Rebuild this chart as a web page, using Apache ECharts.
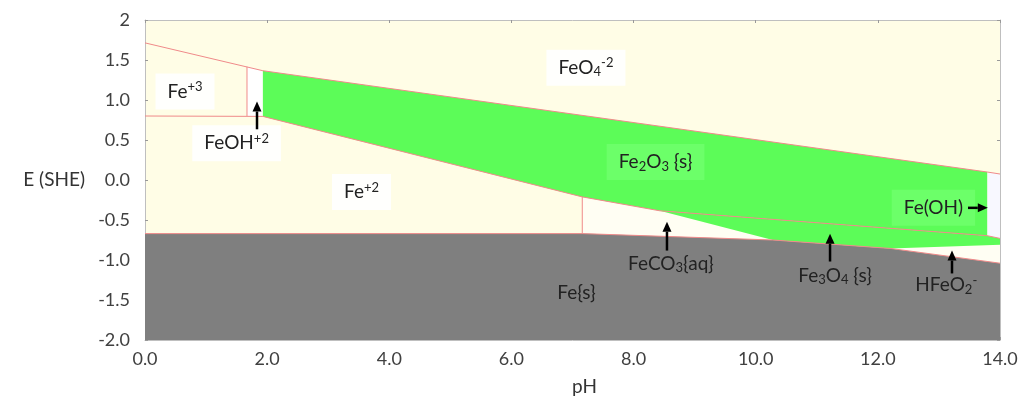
<!DOCTYPE html>
<html>
<head>
<meta charset="utf-8">
<script src="https://cdn.jsdelivr.net/npm/echarts@6/dist/echarts.min.js"></script>
<style>
  html, body { margin: 0; padding: 0; background: #ffffff; }
  #chart { width: 1025px; height: 401px; }
</style>
</head>
<body>
<div id="chart"></div>
<script>
// Pourbaix (E–pH) diagram for iron in water with dissolved carbonate.
// Every vertex is [pH, E in V vs SHE].

// Stability fields
const feOH2Field  = [[1.67, 0.80], [1.67, 1.416], [1.93, 1.366], [1.93, 0.795]];
const feCO3Field  = [[7.16, -0.67], [7.16, -0.211], [8.43, -0.385], [10.28, -0.75]];
const hFeO2Field  = [[12.2, -0.855], [14, -0.81], [14, -1.04]];
const feOHField   = [[13.79, 0.10], [14, 0.075], [14, -0.73], [13.79, -0.696]];
const fe2O3Field  = [[1.93, 1.366], [13.79, 0.10], [13.79, -0.696], [8.43, -0.385], [7.16, -0.211], [1.93, 0.795]];
const fe3O4Field  = [[8.43, -0.385], [13.79, -0.696], [14, -0.73], [14, -0.81], [12.2, -0.855], [10.28, -0.75]];
const feSolidField = [[0, -2], [0, -0.67], [7.16, -0.67], [10.28, -0.75], [12.2, -0.855], [14, -1.04], [14, -2]];

// Phase boundaries
const ferrateLine   = [[0, 1.714], [1.93, 1.366], [13.79, 0.10], [14, 0.075]];
const ferricLine    = [[0, 0.80], [1.93, 0.795]];
const hydrolysisLine = [[1.67, 0.80], [1.67, 1.416]];
const ferrousLine   = [[1.93, 0.795], [7.16, -0.211], [8.43, -0.385]];
const carbonateLine = [[7.16, -0.67], [7.16, -0.211]];
const magnetiteLine = [[8.43, -0.385], [13.79, -0.696], [14, -0.73]];
const ironLine      = [[0, -0.67], [7.16, -0.67], [10.28, -0.75], [12.2, -0.855], [14, -1.04]];

// Species labels (rich text) and their centres
const labelNames = [
  'Fe{sup|+3}',
  'FeOH{sup|+2}',
  'FeO{sub|4}{sup|-2}',
  'Fe{sup|+2}',
  'Fe{sub|2}O{sub|3} {s}',
  'Fe(OH)',
  'FeCO{sub|3}{aq}',
  'Fe{s}',
  'Fe{sub|3}O{sub|4} {s}',
  'HFeO{sub|2}{sup|-}'
];
const labelAt = [
  [0.655, 1.106], [1.50, 0.46], [7.22, 1.404], [3.545, -0.149], [8.36, 0.224],
  [12.91, -0.348], [8.61, -1.043], [7.066, -1.416], [11.30, -1.193], [13.12, -1.317]
];

// Pointer arrows: [pH from, E from, pH to, E to]
const arrows = [
  [1.834, 0.634, 1.834, 0.981],
  [8.547, -0.882, 8.547, -0.522],
  [11.217, -1.019, 11.217, -0.671],
  [13.214, -1.168, 13.214, -0.882],
  [13.476, -0.348, 13.80, -0.348]
];

const FONT = 'Lato';
const CREAM = '#FFFDE6';
const GREEN = '#5CFC58';
const GREY = '#7F7F7F';
const EDGE = '#F08A8A';

function fieldSeries(points, color, z) {
  return {
    type: 'custom',
    silent: true,
    clip: true,
    z: z,
    data: [[0, 0]],
    renderItem: function (params, api) {
      return {
        type: 'polygon',
        shape: { points: points.map(function (p) { return api.coord(p); }) },
        style: { fill: color }
      };
    }
  };
}

function boundarySeries(points) {
  return {
    type: 'line',
    silent: true,
    z: 5,
    data: points,
    symbol: 'none',
    lineStyle: { color: EDGE, width: 1 }
  };
}

// label background by the field it sits on
const boxFill = {
  0: 'rgba(255,255,255,0.9)', 1: 'rgba(255,255,255,0.9)', 2: 'rgba(255,255,255,0.9)',
  3: 'rgba(255,255,255,0.9)', 4: '#6CFF69', 5: '#6CFF69'
};

const labelSeries = {
  type: 'custom',
  silent: true,
  z: 10,
  clip: false,
  data: labelAt,
  renderItem: function (params, api) {
    const i = params.dataIndex;
    const c = api.coord([api.value(0), api.value(1)]);
    return {
      type: 'text',
      x: c[0],
      y: c[1],
      style: {
        text: labelNames[i],
        fontFamily: FONT,
        fontSize: 19,
        fill: '#222222',
        align: 'center',
        verticalAlign: 'middle',
        lineHeight: 22,
        backgroundColor: boxFill[i] || 'transparent',
        padding: boxFill[i] ? [7, 12, 7, 12] : 0,
        rich: {
          sup: { fontFamily: FONT, fontSize: 13, fill: '#222222', verticalAlign: 'top', lineHeight: 13 },
          sub: { fontFamily: FONT, fontSize: 13, fill: '#222222', verticalAlign: 'bottom', lineHeight: 13 }
        }
      }
    };
  }
};

const arrowSeries = {
  type: 'custom',
  silent: true,
  z: 11,
  clip: false,
  data: arrows,
  renderItem: function (params, api) {
    const a = api.coord([api.value(0), api.value(1)]);
    const b = api.coord([api.value(2), api.value(3)]);
    const dx = b[0] - a[0], dy = b[1] - a[1];
    const len = Math.sqrt(dx * dx + dy * dy);
    const ux = dx / len, uy = dy / len;
    const head = 10, half = 4.5;
    const base = [b[0] - ux * head, b[1] - uy * head];
    return {
      type: 'group',
      children: [
        {
          type: 'line',
          shape: { x1: a[0], y1: a[1], x2: base[0], y2: base[1] },
          style: { stroke: '#000000', lineWidth: 2.5 }
        },
        {
          type: 'polygon',
          shape: { points: [b, [base[0] - uy * half, base[1] + ux * half], [base[0] + uy * half, base[1] - ux * half]] },
          style: { fill: '#000000' }
        }
      ]
    };
  }
};

const frameLine = { show: true, onZero: false, lineStyle: { color: '#BFBFBF' } };
const innerTick = { show: true, inside: true, length: 3, lineStyle: { color: '#999999' } };

const chart = echarts.init(document.getElementById('chart'));
chart.setOption({
  animation: false,
  grid: {
    left: 145, right: 25, top: 20, bottom: 59,
    show: true, backgroundColor: CREAM, borderWidth: 0
  },
  xAxis: [
    {
      type: 'value', min: 0, max: 14, interval: 2, position: 'bottom',
      name: 'pH', nameLocation: 'middle', nameGap: 37,
      nameTextStyle: { fontFamily: FONT, fontSize: 19, color: '#333333', padding: [0, 0, 0, 24] },
      axisLine: frameLine,
      axisTick: innerTick,
      axisLabel: { fontFamily: FONT, fontSize: 18, color: '#404040', margin: 10,
        formatter: function (v) { return v.toFixed(1); } },
      splitLine: { show: false }
    },
    {
      type: 'value', min: 0, max: 14, interval: 2, position: 'top',
      axisLine: frameLine,
      axisTick: innerTick,
      axisLabel: { show: false },
      splitLine: { show: false }
    }
  ],
  yAxis: [
    {
      type: 'value', min: -2, max: 2, interval: 0.5, position: 'left',
      name: 'E (SHE)', nameLocation: 'middle', nameRotate: 0, nameGap: 60,
      nameTextStyle: { fontFamily: FONT, fontSize: 19, color: '#333333' },
      axisLine: frameLine,
      axisTick: innerTick,
      axisLabel: { fontFamily: FONT, fontSize: 18, color: '#404040', margin: 15,
        formatter: function (v) { return v === 2 ? '2' : v.toFixed(1); } },
      splitLine: { show: false }
    },
    {
      type: 'value', min: -2, max: 2, interval: 0.5, position: 'right',
      axisLine: frameLine,
      axisTick: innerTick,
      axisLabel: { show: false },
      splitLine: { show: false }
    }
  ],
  series: [
    fieldSeries(feOH2Field, '#FFFFFF', 2),
    fieldSeries(feCO3Field, '#FFFEF3', 2),
    fieldSeries(hFeO2Field, '#FFFEF3', 2),
    fieldSeries(feOHField, '#F8F8FF', 2),
    fieldSeries(fe2O3Field, GREEN, 3),
    fieldSeries(fe3O4Field, GREEN, 3),
    fieldSeries(feSolidField, GREY, 3),
    boundarySeries(ferrateLine),
    boundarySeries(ferricLine),
    boundarySeries(hydrolysisLine),
    boundarySeries(ferrousLine),
    boundarySeries(carbonateLine),
    boundarySeries(magnetiteLine),
    boundarySeries(ironLine),
    labelSeries,
    arrowSeries
  ]
});
</script>
</body>
</html>
